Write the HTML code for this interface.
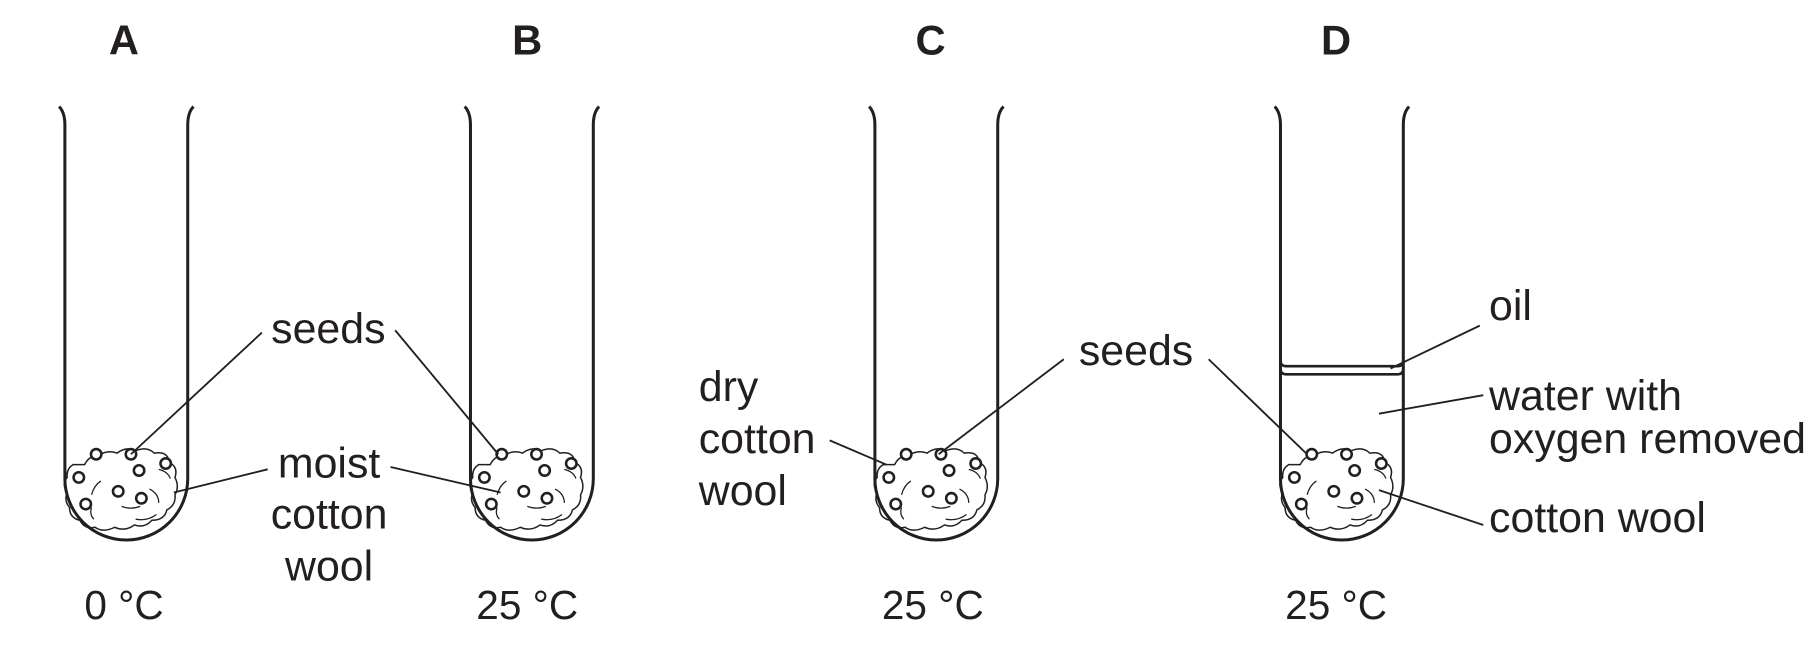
<!DOCTYPE html>
<html><head><style>html,body{margin:0;padding:0;background:#fff;}svg{display:block}</style></head>
<body>
<svg width="1817" height="664" viewBox="0 0 1568 573" preserveAspectRatio="none" xmlns="http://www.w3.org/2000/svg" font-family="Liberation Sans, Arial, sans-serif" fill="#231f20">
<defs>
<g id="tube" fill="none" stroke="#231f20" stroke-width="2.6">
<path d="M-58,92 Q-53,97 -53,108 L-53,413 A53,53 0 0 0 53,413 L53,108 Q53,97 58,92"/>
</g>
<g id="cotton" fill="none" stroke="#231f20">
<path stroke-width="1.3" d="M-36,401 q4,-8 12,-8 q8,-5 16,-2 q8,-6 16,-2 q10,-4 16,2 q12,-2 13,8 q8,4 5,13 q4,8 0,15 q1,9 -7,13 q-2,9 -13,9 q-6,7 -15,4 q-8,6 -17,2 q-10,5 -17,0 q-9,2 -13,-6 q-9,-2 -9,-11 q-5,-6 -2,-13 q-5,-7 0,-13 q-1,-7 5,-11 z"/>
<path stroke-width="1.1" d="M-22,415 q-6,4 -8,12 M-4,437 q8,3 16,0 M20,422 q8,4 8,12 M28,405 q8,2 10,8 M-30,438 q-2,6 2,10 M8,448 q10,2 18,-4"/>
<g stroke-width="2.2" fill="#fff">
<circle cx="-26" cy="392" r="4.5"/><circle cx="4" cy="392" r="4.5"/><circle cx="11" cy="406" r="4.5"/><circle cx="34" cy="400" r="4.5"/><circle cx="-41" cy="412" r="4.5"/><circle cx="-7" cy="424" r="4.5"/><circle cx="13" cy="430" r="4.5"/><circle cx="-35" cy="435" r="4.5"/>
</g>
</g>
</defs>
<g font-weight="bold" font-size="36" text-anchor="middle">
<text x="107" y="47">A</text><text x="455" y="47">B</text><text x="803" y="47">C</text><text x="1153" y="47">D</text>
</g>
<use href="#tube" x="109"/><use href="#cotton" x="109"/>
<use href="#tube" x="459"/><use href="#cotton" x="459"/>
<use href="#tube" x="808"/><use href="#cotton" x="808"/>
<use href="#tube" x="1158"/><use href="#cotton" x="1158"/>
<g fill="none" stroke="#231f20" stroke-width="2.2">
<path d="M1105,311 Q1105,316 1110,316 L1206,316 Q1211,316 1211,311 M1105,318 Q1105,323 1110,323 L1206,323 Q1211,323 1211,318"/>
</g>
<g stroke="#231f20" stroke-width="1.6" fill="none">
<line x1="226" y1="287" x2="113" y2="392"/>
<line x1="341" y1="285" x2="430" y2="392"/>
<line x1="231" y1="405" x2="150" y2="425"/>
<line x1="337" y1="403" x2="432" y2="425"/>
<line x1="716" y1="380" x2="765" y2="401"/>
<line x1="918" y1="310" x2="810" y2="392"/>
<line x1="1043" y1="310" x2="1128" y2="392"/>
<line x1="1277" y1="281" x2="1200" y2="318"/>
<line x1="1280" y1="341" x2="1190" y2="357"/>
<line x1="1280" y1="453" x2="1190" y2="423"/>
</g>
<g font-size="37">
<text x="234" y="296">seeds</text>
<text x="284" y="412" text-anchor="middle">moist</text>
<text x="284" y="456" text-anchor="middle">cotton</text>
<text x="284" y="501" text-anchor="middle">wool</text>
<text x="603" y="346">dry</text>
<text x="603" y="391">cotton</text>
<text x="603" y="436">wool</text>
<text x="931" y="315">seeds</text>
<text x="1285" y="276">oil</text>
<text x="1285" y="354">water with</text>
<text x="1285" y="391">oxygen removed</text>
<text x="1285" y="459">cotton wool</text>
</g>
<g font-size="35" text-anchor="middle">
<text x="107" y="534">0 °C</text><text x="455" y="534">25 °C</text><text x="805" y="534">25 °C</text><text x="1153" y="534">25 °C</text>
</g>
</svg>
</body></html>
